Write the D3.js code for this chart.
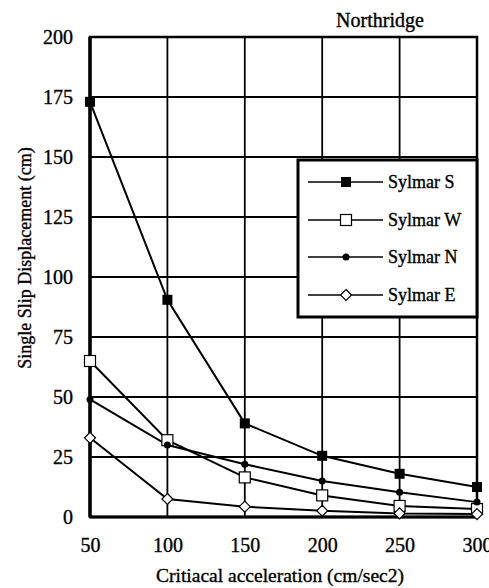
<!DOCTYPE html>
<html><head><meta charset="utf-8">
<script src="https://cdn.jsdelivr.net/npm/d3@7"></script>
<style>body{margin:0;background:#fff}svg{display:block}</style>
</head><body>
<script>
const accel = [50, 100, 150, 200, 250, 300];
const sylmarS = [173, 90.5, 39, 25.5, 18, 12.5];
const sylmarW = [65, 32, 16.5, 9, 4.6, 3.3];
const sylmarN = [49, 30, 22, 15, 10.3, 6.2];
const sylmarE = [33, 7.5, 4.3, 2.6, 1.5, 1.2];
const seriesNames = ["Sylmar S", "Sylmar W", "Sylmar N", "Sylmar E"];
const yTicks = [0, 25, 50, 75, 100, 125, 150, 175, 200];
const xTicks = [50, 100, 150, 200, 250, 300];

const W = 489, H = 588;
const svg = d3.select("body").append("svg").attr("width", W).attr("height", H);
const font = "'Liberation Serif', 'Times New Roman', serif";
const L = 90, R = 477, T = 37, B = 517;
const x = d3.scaleLinear().domain([50, 300]).range([L, R]);
const y = d3.scaleLinear().domain([0, 200]).range([B, T]);

function ink(sel) { return sel.attr("font-family", font).attr("fill", "#000").attr("stroke", "#000").attr("stroke-width", 0.35); }

// grid
svg.append("g").selectAll("line").data(yTicks).join("line")
  .attr("x1", L).attr("x2", R).attr("y1", d => y(d)).attr("y2", d => y(d))
  .attr("stroke", "#000").attr("stroke-width", 1.8);
svg.append("g").selectAll("line").data(xTicks).join("line")
  .attr("y1", T).attr("y2", B).attr("x1", d => x(d)).attr("x2", d => x(d))
  .attr("stroke", "#000").attr("stroke-width", 1.8);
// frame
svg.append("rect").attr("x", L).attr("y", T).attr("width", R - L).attr("height", B - T)
  .attr("fill", "none").attr("stroke", "#000").attr("stroke-width", 2.5);
svg.append("line").attr("x1", L).attr("x2", L).attr("y1", T).attr("y2", B).attr("stroke", "#000").attr("stroke-width", 3.5);
svg.append("line").attr("x1", L).attr("x2", R).attr("y1", B).attr("y2", B).attr("stroke", "#000").attr("stroke-width", 3);

// axes labels
const xAxis = d3.axisBottom(x).tickValues(xTicks).tickSize(0).tickPadding(21);
const gx = svg.append("g").attr("transform", `translate(0,${B})`).call(xAxis);
gx.select(".domain").remove();
ink(gx.selectAll("text")).attr("font-size", 20);
const yAxis = d3.axisLeft(y).tickValues(yTicks).tickSize(0).tickPadding(17);
const gy = svg.append("g").attr("transform", `translate(${L},0)`).call(yAxis);
gy.select(".domain").remove();
ink(gy.selectAll("text")).attr("font-size", 20);

ink(svg.append("text").attr("x", 280).attr("y", 582).attr("text-anchor", "middle")
  .attr("font-size", 19.5).text("Critiacal acceleration (cm/sec2)"));
ink(svg.append("text").attr("transform", "translate(31,258) rotate(-90)").attr("text-anchor", "middle")
  .attr("font-size", 18).text("Single Slip Displacement (cm)"));
ink(svg.append("text").attr("x", 380).attr("y", 27).attr("text-anchor", "middle")
  .attr("font-size", 20).text("Northridge"));

const allSeries = [sylmarS, sylmarW, sylmarN, sylmarE];
const line = d3.line().x((d, i) => x(accel[i])).y(d => y(d));

function marker(g, type, cx, cy) {
  if (type === 0) g.append("rect").attr("x", cx - 5).attr("y", cy - 5).attr("width", 10).attr("height", 10).attr("fill", "#000");
  else if (type === 1) g.append("rect").attr("x", cx - 5.5).attr("y", cy - 5.5).attr("width", 11).attr("height", 11).attr("fill", "#fff").attr("stroke", "#000").attr("stroke-width", 1.2);
  else if (type === 2) g.append("circle").attr("cx", cx).attr("cy", cy).attr("r", 3.5).attr("fill", "#000");
  else g.append("path").attr("d", `M${cx},${cy - 5.5}L${cx + 5.5},${cy}L${cx},${cy + 5.5}L${cx - 5.5},${cy}Z`).attr("fill", "#fff").attr("stroke", "#000").attr("stroke-width", 1.2);
}

allSeries.forEach((s, k) => {
  svg.append("path").datum(s).attr("d", line).attr("fill", "none").attr("stroke", "#000").attr("stroke-width", 2);
});
allSeries.forEach((s, k) => {
  const g = svg.append("g");
  s.forEach((v, i) => marker(g, k, x(accel[i]), y(v)));
});

// legend
const lg = svg.append("g");
lg.append("rect").attr("x", 298).attr("y", 160).attr("width", R - 298).attr("height", 157)
  .attr("fill", "#fff").attr("stroke", "#000").attr("stroke-width", 3);
const ly = [182, 220, 257, 295];
seriesNames.forEach((n, k) => {
  lg.append("line").attr("x1", 308).attr("x2", 383).attr("y1", ly[k]).attr("y2", ly[k]).attr("stroke", "#000").attr("stroke-width", 1.6);
  marker(lg, k, 346, ly[k]);
  ink(lg.append("text").attr("x", 388).attr("y", ly[k] + 6).attr("font-size", 18).text(n));
});
</script>
</body></html>
